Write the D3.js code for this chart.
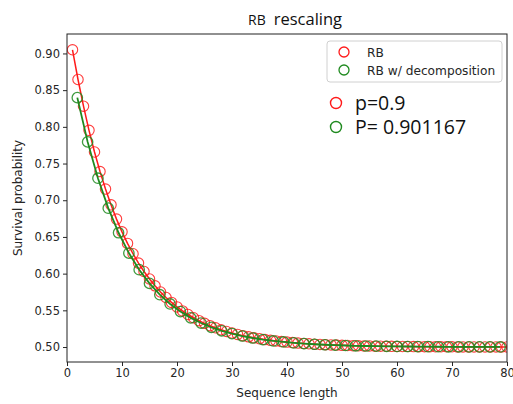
<!DOCTYPE html>
<html><head><meta charset="utf-8">
<script src="https://cdn.jsdelivr.net/npm/d3@7"></script>
<style>body{margin:0;background:#fff}svg{display:block}</style>
</head><body>
<script>
// Data
const redX = d3.range(1, 81);
const redY = [0.9050,0.8645,0.8281,0.7952,0.7657,0.7391,0.7152,0.6937,0.6743,0.6569,
0.6412,0.6271,0.6144,0.6029,0.5927,0.5834,0.5750,0.5675,0.5608,0.5547,
0.5492,0.5443,0.5399,0.5359,0.5323,0.5291,0.5262,0.5235,0.5212,0.5191,
0.5172,0.5155,0.5139,0.5125,0.5113,0.5101,0.5091,0.5082,0.5074,0.5067,
0.5060,0.5054,0.5048,0.5044,0.5039,0.5035,0.5032,0.5029,0.5026,0.5023,
0.5021,0.5019,0.5017,0.5015,0.5014,0.5012,0.5011,0.5010,0.5009,0.5008,
0.5007,0.5007,0.5006,0.5005,0.5005,0.5004,0.5004,0.5003,0.5003,0.5003,
0.5002,0.5002,0.5002,0.5002,0.5002,0.5001,0.5001,0.5001,0.5001,0.5001];
const greenX = [1.875,3.75,5.625,7.5,9.375,11.25,13.125,15,16.875,18.75,
20.625,22.5,24.375,26.25,28.125,30,31.875,33.75,35.625,37.5,
39.375,41.25,43.125,45,46.875,48.75,50.625,52.5,54.375,56.25,
58.125,60,61.875,63.75,65.625,67.5,69.375,71.25,73.125,75,76.875,78.75];
const greenY = [0.8398,0.7795,0.7300,0.6892,0.6557,0.6280,0.6054,0.5867,0.5713,0.5587,
0.5483,0.5397,0.5327,0.5269,0.5221,0.5182,0.5150,0.5123,0.5101,0.5083,
0.5069,0.5056,0.5046,0.5038,0.5031,0.5026,0.5021,0.5017,0.5014,0.5012,
0.5010,0.5008,0.5007,0.5006,0.5005,0.5004,0.5003,0.5003,0.5002,0.5002,0.5002,0.5001];
const xTicks = [0,10,20,30,40,50,60,70,80];
const yTicks = [0.50,0.55,0.60,0.65,0.70,0.75,0.80,0.85,0.90];
const legendLabels = ["RB", "RB w/ decomposition"];
const annotations = ["p=0.9", "P= 0.901167"];

const W = 513, H = 404;
const L = 67, R = 507, T = 34, B = 362;
const RED = "#ff1a1a", GREEN = "#1f8a1f";
const svg = d3.select("body").append("svg").attr("width", W).attr("height", H)
  .style("font-family", "'DejaVu Sans', sans-serif");

const x = d3.scaleLinear().domain([0, 80]).range([L, R]);
const y = d3.scaleLinear().domain([0.4796, 0.9265]).range([B, T]);

svg.append("defs").append("clipPath").attr("id", "clip")
  .append("rect").attr("x", L).attr("y", T).attr("width", R - L).attr("height", B - T);

// axes
const xa = svg.append("g").attr("transform", `translate(0,${B})`)
  .call(d3.axisBottom(x).tickValues(xTicks).tickFormat(d3.format("d")).tickSize(4).tickPadding(3));
const ya = svg.append("g").attr("transform", `translate(${L},0)`)
  .call(d3.axisLeft(y).tickValues(yTicks).tickFormat(d3.format(".2f")).tickSize(4).tickPadding(3));
[xa, ya].forEach(g => {
  g.select(".domain").remove();
  g.selectAll("text").attr("font-size", 11.5).attr("fill", "#262626").attr("font-family", "'DejaVu Sans', sans-serif");
  g.selectAll("line").attr("stroke", "#262626");
});

const plot = svg.append("g").attr("clip-path", "url(#clip)");
const redData = redX.map((v, i) => [v, redY[i]]);
const greenData = greenX.map((v, i) => [v, greenY[i]]);
const line = d3.line().x(d => x(d[0])).y(d => y(d[1]));

plot.append("path").datum(redData).attr("d", line).attr("fill", "none").attr("stroke", RED).attr("stroke-width", 1.5);
plot.selectAll(".rc").data(redData).join("circle").attr("class", "rc")
  .attr("cx", d => x(d[0])).attr("cy", d => y(d[1])).attr("r", 5.2)
  .attr("fill", "none").attr("stroke", RED).attr("stroke-width", 1.1).attr("stroke-opacity", 0.85);
plot.append("path").datum(greenData).attr("d", line).attr("fill", "none").attr("stroke", GREEN).attr("stroke-width", 1.8);
plot.selectAll(".gc").data(greenData).join("circle").attr("class", "gc")
  .attr("cx", d => x(d[0])).attr("cy", d => y(d[1])).attr("r", 5.2)
  .attr("fill", "none").attr("stroke", GREEN).attr("stroke-width", 1.3).attr("stroke-opacity", 0.85);

// frame
svg.append("rect").attr("x", L).attr("y", T).attr("width", R - L).attr("height", B - T)
  .attr("fill", "none").attr("stroke", "#222").attr("stroke-width", 1);

// labels
svg.append("text").attr("x", (L + R) / 2).attr("y", 397).attr("text-anchor", "middle")
  .attr("font-size", 12).attr("fill", "#262626").text("Sequence length");
svg.append("text").attr("transform", `translate(22,${(T + B) / 2}) rotate(-90)`).attr("text-anchor", "middle")
  .attr("font-size", 12).attr("fill", "#262626").text("Survival probability");

// title
const title = svg.append("text").attr("x", 248).attr("y", 25).attr("font-family", "'Open Sans', sans-serif").attr("fill", "#111");
title.append("tspan").attr("font-size", 14).text("RB");
title.append("tspan").attr("font-size", 16.5).attr("dx", 8).text("rescaling");

// legend
svg.append("rect").attr("x", 327).attr("y", 41).attr("width", 175).attr("height", 41).attr("rx", 3)
  .attr("fill", "#fff").attr("fill-opacity", 0.8).attr("stroke", "#d0d0d0");
const legColors = [RED, GREEN];
legendLabels.forEach((t, i) => {
  const yy = 52 + i * 18;
  svg.append("circle").attr("cx", 344).attr("cy", yy).attr("r", 5).attr("fill", "none")
    .attr("stroke", legColors[i]).attr("stroke-width", 1.3);
  svg.append("text").attr("x", 367).attr("y", yy + 4.5).attr("font-size", 12.2).attr("fill", "#262626").text(t);
});

// annotations
annotations.forEach((t, i) => {
  const yy = 103 + i * 24;
  svg.append("circle").attr("cx", 336).attr("cy", yy).attr("r", 5.5).attr("fill", "none")
    .attr("stroke", legColors[i]).attr("stroke-width", 1.4);
  svg.append("text").attr("x", 355).attr("y", yy + 6.5).attr("font-size", 19.5)
    .attr("font-family", "'Open Sans', sans-serif").attr("fill", "#111").text(t);
});
</script>
</body></html>
